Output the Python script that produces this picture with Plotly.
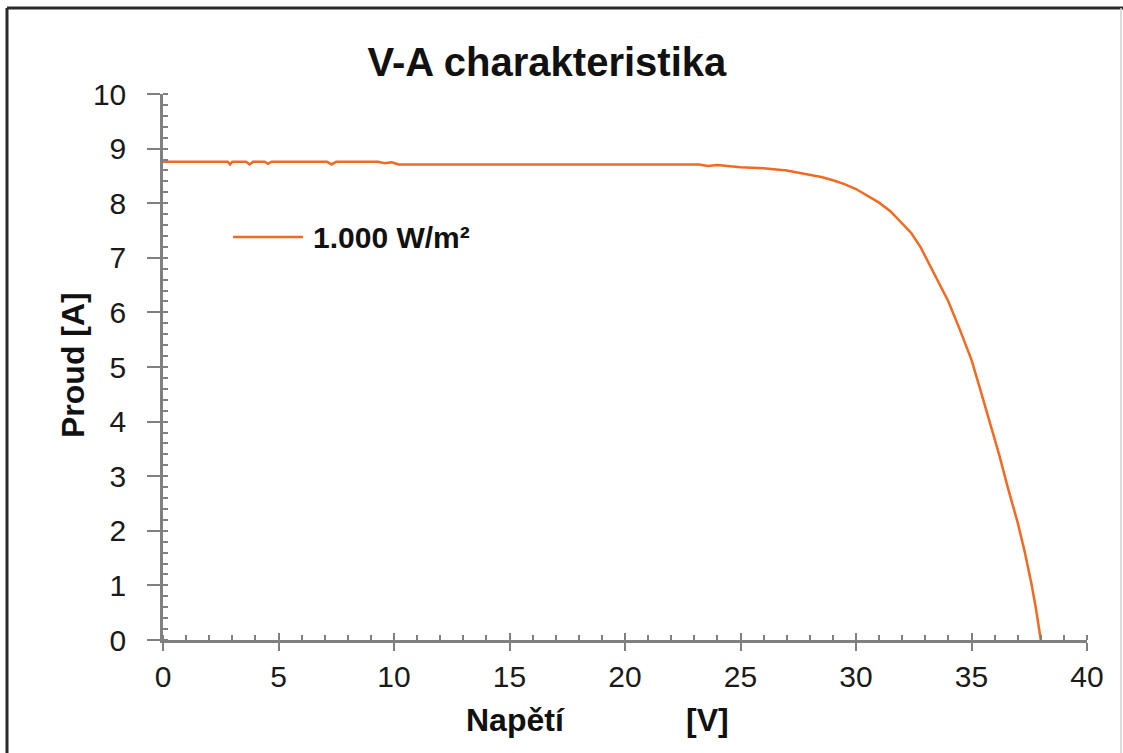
import plotly.graph_objects as go

# V-A curve (voltage in V, current in A)
napeti = [0.0, 2.8, 2.9, 3.0, 3.6, 3.75, 3.9, 4.4, 4.55, 4.7, 7.1, 7.3, 7.5,
          9.3, 9.6, 9.9, 10.2, 15.0, 20.0, 23.2, 23.6, 24.0, 25.0, 26.0, 27.0,
          28.0, 28.5, 29.0, 29.5, 30.0, 30.5, 31.0, 31.5, 32.0, 32.4, 32.8,
          33.2, 33.6, 34.0, 34.5, 35.0, 35.4, 35.8, 36.2, 36.6, 37.0, 37.3,
          37.6, 37.8, 38.0]
proud = [8.76, 8.76, 8.71, 8.76, 8.76, 8.71, 8.76, 8.76, 8.72, 8.76, 8.76, 8.71,
         8.76, 8.76, 8.73, 8.75, 8.71, 8.71, 8.71, 8.71, 8.68, 8.70, 8.66, 8.64,
         8.60, 8.52, 8.48, 8.42, 8.35, 8.26, 8.14, 8.01, 7.85, 7.62, 7.45, 7.19,
         6.86, 6.52, 6.20, 5.68, 5.13, 4.56, 3.99, 3.39, 2.75, 2.15, 1.62, 1.02,
         0.55, 0.0]
x_ticks = [0, 5, 10, 15, 20, 25, 30, 35, 40]
y_ticks = [0, 1, 2, 3, 4, 5, 6, 7, 8, 9, 10]
legend_label = "1.000 W/m²"

ORANGE = "#F06A22"
AXIS = "#808080"
FONT = "Liberation Sans, Arial, sans-serif"

W, H = 1123, 753
L, R, T, B = 163, 36, 94, 113
pw, ph = W - L - R, H - T - B


def px(x):
    return (x - L) / pw


def py(y):
    return (H - B - y) / ph


fig = go.Figure()
fig.add_trace(go.Scatter(
    x=napeti, y=proud, mode="lines", name=legend_label,
    line=dict(color=ORANGE, width=2.5), showlegend=False,
))

tickfont = dict(family=FONT, size=30, color="#1a1a1a")
fig.update_layout(
    width=W, height=H,
    margin=dict(l=L, r=R, t=T, b=B),
    paper_bgcolor="white", plot_bgcolor="white",
    title=dict(text="<b>V-A charakteristika</b>", x=0.487, xref="container",
               xanchor="center", y=1 - 62 / H, yanchor="middle",
               font=dict(family=FONT, size=40, color="#111")),
    xaxis=dict(range=[0, 40], tickvals=x_ticks, showgrid=False, zeroline=False,
               showline=True, linecolor=AXIS, linewidth=2.5,
               ticks="outside", ticklen=8, tickwidth=2, tickcolor=AXIS,
               tickfont=tickfont, ticklabelstandoff=0,
               minor=dict(dtick=1, ticks="inside", ticklen=5, tickwidth=2,
                          tickcolor=AXIS)),
    yaxis=dict(range=[0, 10], tickvals=y_ticks, showgrid=False, zeroline=False,
               showline=True, linecolor=AXIS, linewidth=2.5,
               ticks="outside", ticklen=13, tickwidth=2, tickcolor=AXIS,
               tickfont=tickfont, ticklabelstandoff=15,
               minor=dict(dtick=0.2, ticks="inside", ticklen=5, tickwidth=2,
                          tickcolor=AXIS)),
    # inside halves of the major ticks (cross ticks)
    xaxis2=dict(range=[0, 40], overlaying="x", tickvals=x_ticks, ticks="inside",
                ticklen=7, tickwidth=2, tickcolor=AXIS, showticklabels=False,
                showgrid=False, zeroline=False),
    yaxis2=dict(range=[0, 10], overlaying="y", tickvals=y_ticks, ticks="inside",
                ticklen=5, tickwidth=2, tickcolor=AXIS, showticklabels=False,
                showgrid=False, zeroline=False),
)
fig.add_trace(go.Scatter(x=[None], y=[None], xaxis="x2", yaxis="y2",
                         showlegend=False, hoverinfo="skip"))

titlefont = dict(family=FONT, size=32, color="#111")
fig.add_annotation(text="<b>Napětí</b>", xref="paper", yref="paper",
                   x=px(515), y=py(720), showarrow=False, font=titlefont,
                   xanchor="center", yanchor="middle")
fig.add_annotation(text="<b>[V]</b>", xref="paper", yref="paper",
                   x=px(707), y=py(720), showarrow=False, font=titlefont,
                   xanchor="center", yanchor="middle")
fig.add_annotation(text="<b>Proud [A]</b>", xref="paper", yref="paper",
                   x=px(73), y=py(365), showarrow=False, font=titlefont,
                   textangle=-90, xanchor="center", yanchor="middle")

# legend key drawn by hand (longer line than plotly's own legend)
fig.add_shape(type="line", xref="paper", yref="paper",
              x0=px(233), x1=px(303), y0=py(237), y1=py(237),
              line=dict(color=ORANGE, width=2.5))
fig.add_annotation(text="<b>" + legend_label + "</b>", xref="paper", yref="paper",
                   x=px(311), y=py(238), showarrow=False, xanchor="left",
                   yanchor="middle", font=dict(family=FONT, size=30, color="#111"))

# picture frame
fig.add_shape(type="line", xref="paper", yref="paper", x0=px(7), x1=px(1123),
              y0=py(8), y1=py(8), line=dict(color="#2a2a2a", width=3))
fig.add_shape(type="line", xref="paper", yref="paper", x0=px(7), x1=px(7),
              y0=py(8), y1=py(753), line=dict(color="#2a2a2a", width=3))
fig.add_shape(type="line", xref="paper", yref="paper", x0=px(1121), x1=px(1121),
              y0=py(8), y1=py(753), line=dict(color="#d0d0d0", width=1.5))

# drop the page's default body margin so the figure sits at the window corner
fig.write_html("out.html", config={"displayModeBar": False},
               post_script="document.body.style.margin='0';")
